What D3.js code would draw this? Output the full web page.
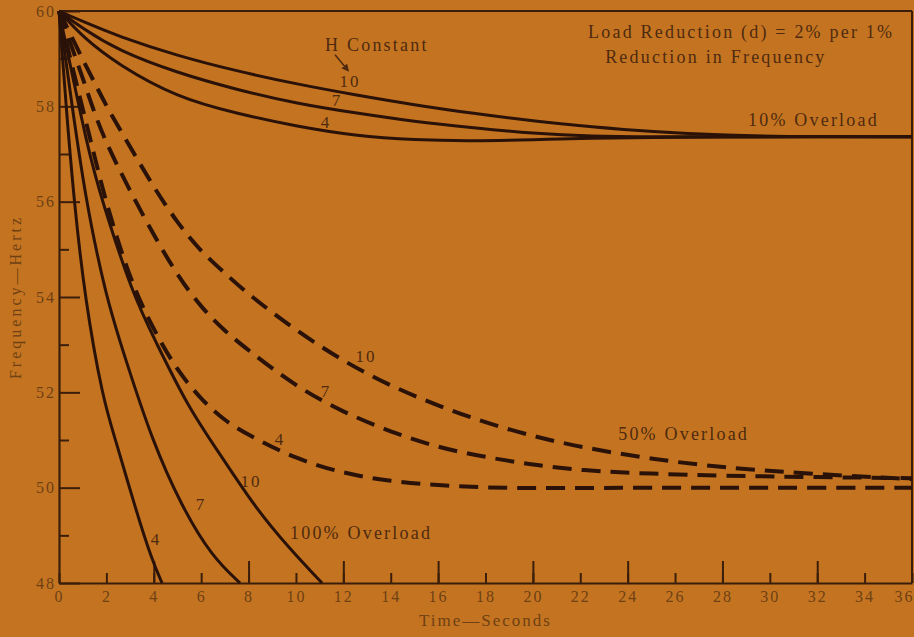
<!DOCTYPE html>
<html>
<head>
<meta charset="utf-8">
<script src="https://cdn.jsdelivr.net/npm/d3@7"></script>
<style>
  body { margin: 0; background: #c47420; }
  svg { display: block; }
  text { font-family: "Liberation Serif", "DejaVu Serif", serif; }
</style>
</head>
<body>
<script>
// tick values
const timeTicks = [0, 2, 4, 6, 8, 10, 12, 14, 16, 18, 20, 22, 24, 26, 28, 30, 32, 34, 36];
const timeMajorTicks = [4, 8, 12, 16, 20, 24, 28, 32];
const freqTicks = [48, 50, 52, 54, 56, 58, 60];
const freqMinorTicks = [49, 51, 53, 55, 57, 59];

// 10% overload (solid), H = 10, 7, 4
const time10 = [0, 1, 2.5, 5, 7.5, 10, 12.5, 15, 17.5, 20, 22.5, 25, 28, 32, 36];
const over10H10 = [60, 59.78, 59.47, 59.06, 58.74, 58.47, 58.24, 58.03, 57.85, 57.69, 57.57, 57.47, 57.39, 57.36, 57.36];
const over10H7 = [60, 59.63, 59.17, 58.7, 58.35, 58.06, 57.86, 57.68, 57.55, 57.43, 57.37, 57.36, 57.36, 57.36, 57.36];
const over10H4 = [60, 59.45, 58.87, 58.18, 57.85, 57.58, 57.38, 57.29, 57.27, 57.3, 57.33, 57.35, 57.36, 57.36, 57.36];

// 50% overload (dashed)
const time50 = [0, 0.5, 1, 1.5, 2, 3, 4, 5, 6, 7, 8, 10, 12, 14, 16, 18, 20, 22, 25, 28, 32, 36];
const over50H10 = [60, 59.5, 58.98, 58.5, 58.0, 57.15, 56.3, 55.55, 54.95, 54.5, 54.05, 53.3, 52.65, 52.13, 51.72, 51.36, 51.08, 50.85, 50.6, 50.42, 50.28, 50.18];
const over50H7 = [60, 59.3, 58.6, 57.85, 57.22, 56.22, 55.3, 54.45, 53.78, 53.28, 52.88, 52.12, 51.58, 51.17, 50.84, 50.64, 50.48, 50.36, 50.29, 50.25, 50.22, 50.2];
const over50H4 = [60, 58.95, 57.95, 56.95, 55.95, 54.35, 53.3, 52.45, 51.85, 51.4, 51.1, 50.6, 50.3, 50.13, 50.05, 50.0, 49.99, 49.99, 50.0, 50.0, 50.0, 50.0];

// 100% overload (solid), each runs until 48 Hz
const time100H10 = [0, 1.22, 1.81, 3.12, 4.05, 5.44, 6.88, 8.27, 9.66, 11.1];
const over100H10 = [60, 57.08, 56.03, 54.04, 53.1, 51.69, 50.64, 49.59, 48.76, 48.0];
const time100H7 = [0, 0.5, 1.1, 1.98, 2.78, 3.92, 5.19, 6.46, 7.64];
const over100H7 = [60, 58.2, 56.1, 54.0, 52.74, 51.0, 49.59, 48.55, 48.0];
const time100H4 = [0, 0.3, 0.63, 1.1, 1.86, 2.36, 3.21, 3.92, 4.35];
const over100H4 = [60, 58.0, 56.03, 53.94, 51.84, 51.05, 49.59, 48.48, 48.0];

const ink = '#2a1209';
const axisInk = '#3a1e0b';
const labelInk = '#4e2a10';
const tickInk = '#6e4014';

const svg = d3.select('body')
  .append('svg')
  .attr('width', 914)
  .attr('height', 637);

const x = d3.scaleLinear().domain([0, 36]).range([59, 912]);
const y = d3.scaleLinear().domain([48, 60]).range([583, 11]);

// x axis: labelled ticks every 2 s, longer ticks every 4 s
svg.append('g')
  .attr('transform', 'translate(0,' + y(48) + ')')
  .call(d3.axisBottom(x).tickValues(timeTicks).tickSize(-10).tickSizeOuter(0).tickPadding(8))
  .call((g) => g.selectAll('.tick text')
    .filter((d) => d === 36)
    .attr('text-anchor', 'end')
    .attr('dx', '2px'));
svg.append('g')
  .attr('transform', 'translate(0,' + y(48) + ')')
  .call(d3.axisBottom(x).tickValues(timeMajorTicks).tickSize(-22).tickFormat(''))
  .call((g) => g.select('.domain').remove());

// y axis: inward ticks
svg.append('g')
  .attr('transform', 'translate(' + x(0) + ',0)')
  .call(d3.axisLeft(y).tickValues(freqTicks).tickSize(-21).tickSizeOuter(0).tickPadding(3));
svg.append('g')
  .attr('transform', 'translate(' + x(0) + ',0)')
  .call(d3.axisLeft(y).tickValues(freqMinorTicks).tickSize(-10).tickFormat(''))
  .call((g) => g.select('.domain').remove());

svg.selectAll('.domain').attr('stroke', axisInk).attr('stroke-width', 2.2);
svg.selectAll('.tick line').attr('stroke', axisInk).attr('stroke-width', 2);
svg.selectAll('.tick text')
  .attr('fill', tickInk)
  .style('font-family', '"Liberation Serif", serif')
  .style('font-size', '16px')
  .style('letter-spacing', '2px');

// frame: top and right edges
svg.append('line')
  .attr('x1', x(0)).attr('x2', x(36))
  .attr('y1', y(60)).attr('y2', y(60))
  .attr('stroke', axisInk).attr('stroke-width', 2);
svg.append('line')
  .attr('x1', x(36)).attr('x2', x(36))
  .attr('y1', y(60)).attr('y2', y(48))
  .attr('stroke', axisInk).attr('stroke-width', 2);

// curves
const line = d3.line()
  .x((d) => x(d[0]))
  .y((d) => y(d[1]))
  .curve(d3.curveBasis);

const zip = (ts, fs) => ts.map((t, i) => [t, fs[i]]);

const solidCurves = [
  zip(time10, over10H10), zip(time10, over10H7), zip(time10, over10H4),
  zip(time100H10, over100H10), zip(time100H7, over100H7), zip(time100H4, over100H4)
];
const dashedCurves = [
  zip(time50, over50H10), zip(time50, over50H7), zip(time50, over50H4)
];

svg.selectAll('path.solid')
  .data(solidCurves)
  .enter()
  .append('path')
  .attr('class', 'solid')
  .attr('d', line)
  .attr('fill', 'none')
  .attr('stroke', ink)
  .attr('stroke-width', 3);

svg.selectAll('path.dashed')
  .data(dashedCurves)
  .enter()
  .append('path')
  .attr('class', 'dashed')
  .attr('d', line)
  .attr('fill', 'none')
  .attr('stroke', ink)
  .attr('stroke-width', 4)
  .attr('stroke-dasharray', '19,10');

// annotations, placed in data units
const notes = [
  { text: 'H Constant', t: 11.23, f: 59.16, anchor: 'start', size: 18 },
  { text: '10', t: 12.28, f: 58.4, anchor: 'middle', size: 17 },
  { text: '7', t: 11.73, f: 58.01, anchor: 'middle', size: 17 },
  { text: '4', t: 11.27, f: 57.54, anchor: 'middle', size: 17 },
  { text: 'Load Reduction (d) = 2% per 1%', t: 22.33, f: 59.43, anchor: 'start', size: 18 },
  { text: 'Reduction in Frequency', t: 23.05, f: 58.91, anchor: 'start', size: 18 },
  { text: '10% Overload', t: 29.08, f: 57.59, anchor: 'start', size: 18 },
  { text: '50% Overload', t: 23.6, f: 51.0, anchor: 'start', size: 18 },
  { text: '100% Overload', t: 9.75, f: 48.92, anchor: 'start', size: 18 },
  { text: '10', t: 12.96, f: 52.64, anchor: 'middle', size: 17 },
  { text: '7', t: 11.27, f: 51.9, anchor: 'middle', size: 17 },
  { text: '4', t: 9.33, f: 50.89, anchor: 'middle', size: 17 },
  { text: '10', t: 8.1, f: 50.01, anchor: 'middle', size: 17 },
  { text: '7', t: 5.99, f: 49.53, anchor: 'middle', size: 17 },
  { text: '4', t: 4.09, f: 48.8, anchor: 'middle', size: 17 }
];

svg.selectAll('text.note')
  .data(notes)
  .enter()
  .append('text')
  .attr('class', 'note')
  .attr('x', (d) => x(d.t))
  .attr('y', (d) => y(d.f))
  .attr('text-anchor', (d) => d.anchor)
  .attr('fill', labelInk)
  .style('font-size', (d) => d.size + 'px')
  .style('letter-spacing', (d) => d.anchor === 'start' ? '2.2px' : '2px')
  .text((d) => d.text);

// little arrow from "H Constant" down to the H = 10 label
svg.append('defs').append('marker')
  .attr('id', 'head')
  .attr('viewBox', '0 0 10 10')
  .attr('refX', 8).attr('refY', 5)
  .attr('markerWidth', 5).attr('markerHeight', 5)
  .attr('orient', 'auto')
  .append('path')
  .attr('d', 'M0,0L10,5L0,10z')
  .attr('fill', labelInk);
svg.append('line')
  .attr('x1', x(11.65)).attr('y1', y(59.08))
  .attr('x2', x(12.2)).attr('y2', y(58.75))
  .attr('stroke', labelInk)
  .attr('stroke-width', 1.5)
  .attr('marker-end', 'url(#head)');

// axis titles
svg.append('text')
  .attr('x', x(18))
  .attr('y', 626)
  .attr('text-anchor', 'middle')
  .attr('fill', tickInk)
  .style('font-size', '17px')
  .style('letter-spacing', '2px')
  .text('Time\u2014Seconds');

svg.append('text')
  .attr('transform', 'translate(21,' + y(54) + ') rotate(-90)')
  .attr('text-anchor', 'middle')
  .attr('fill', tickInk)
  .style('font-size', '16px')
  .style('letter-spacing', '3px')
  .text('Frequency\u2014Hertz');
</script>
</body>
</html>
